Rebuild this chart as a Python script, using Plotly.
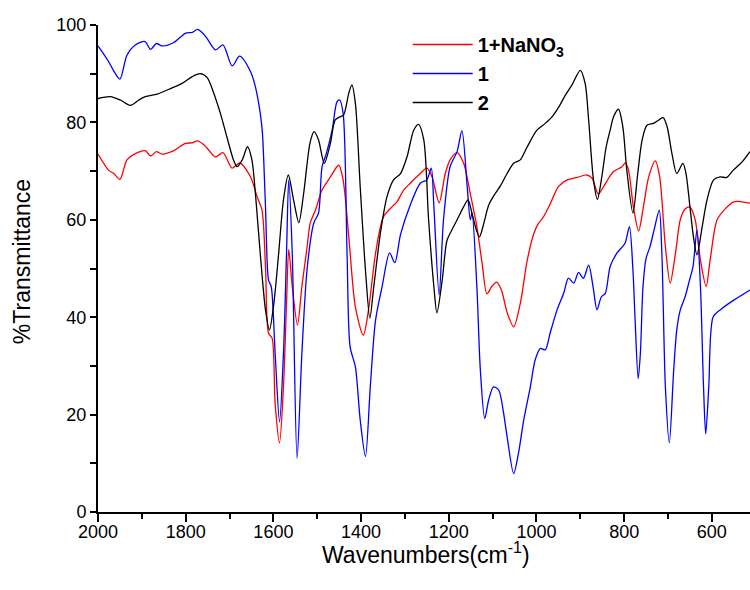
import plotly.graph_objects as go

# ---- data (wavenumber cm-1, %T) ----
wn_1 = [2000, 1976, 1965, 1950, 1934, 1915, 1893, 1880, 1867, 1854, 1827, 1801, 1785, 1773, 1760, 1751,
        1732, 1715, 1694, 1677, 1652, 1641, 1630, 1625, 1618, 1611, 1605, 1596, 1586, 1577, 1570, 1565,
        1557, 1546, 1535, 1523, 1508, 1497, 1489, 1479, 1466, 1455, 1449, 1441, 1432, 1425, 1413, 1402,
        1390, 1379, 1367, 1352, 1335, 1323, 1310, 1288, 1265, 1250, 1240, 1234, 1222, 1212, 1197, 1181,
        1170, 1158, 1151, 1147, 1136, 1128, 1118, 1109, 1098, 1086, 1075, 1067, 1052, 1041, 1029, 1014,
        1003, 991, 980, 969, 953, 938, 927, 915, 904, 893, 881, 871, 862, 852, 843, 832, 817, 798, 788,
        780, 775, 768, 763, 757, 750, 741, 730, 720, 714, 706, 697, 687, 680, 672, 661, 651, 643, 634,
        626, 619, 614, 607, 597, 581, 550, 513]
t_1 = [95.7, 92.5, 90.7, 88.9, 93.8, 95.9, 96.6, 95.0, 96.2, 95.7, 96.4, 98.3, 98.5, 99.1, 98.2, 97.2,
       94.9, 95.9, 91.6, 93.6, 90.4, 87.3, 81.9, 77.8, 62.7, 47.6, 46.3, 32.6, 18.5, 32.6, 53.2, 68.2,
       53.2, 11.0, 32.6, 50.0, 59.3, 61.4, 70.9, 73.7, 78.4, 84.2, 84.6, 81.9, 53.2, 33.9, 29.8, 18.9,
       11.4, 25.7, 39.4, 46.3, 53.2, 51.2, 57.0, 63.0, 67.5, 68.2, 70.6, 62.7, 44.6, 60.0, 70.9, 74.0,
       78.3, 66.8, 60.0, 61.4, 46.3, 29.2, 19.2, 23.0, 25.7, 25.0, 20.3, 15.5, 7.9, 12.1, 18.9, 25.7,
       31.2, 33.6, 33.3, 36.7, 41.5, 44.9, 48.0, 47.0, 49.2, 48.0, 50.7, 46.3, 41.5, 44.2, 44.9, 50.4,
       53.1, 55.2, 58.6, 49.7, 39.4, 27.4, 32.6, 46.3, 52.1, 54.5, 58.6, 62.0, 53.1, 25.7, 14.2, 29.2,
       37.4, 41.5, 44.2, 47.6, 50.4, 57.9, 46.3, 25.7, 16.0, 25.7, 40.1, 41.5, 43.5, 45.6]

wn_nano3 = [2000, 1976, 1964, 1950, 1934, 1915, 1892, 1880, 1867, 1854, 1827, 1801, 1785, 1773, 1760, 1751,
            1732, 1715, 1694, 1677, 1652, 1637, 1626, 1618, 1611, 1603, 1596, 1586, 1577, 1570, 1565, 1557,
            1545, 1535, 1523, 1516, 1504, 1489, 1470, 1451, 1441, 1428, 1413, 1395, 1383, 1367, 1349, 1329,
            1318, 1303, 1288, 1265, 1250, 1238, 1222, 1208, 1197, 1181, 1166, 1151, 1136, 1124, 1113, 1102,
            1091, 1080, 1067, 1052, 1037, 1021, 1006, 995, 984, 968, 950, 930, 907, 885, 873, 859, 847, 832,
            824, 805, 797, 790, 779, 767, 756, 744, 729, 719, 706, 695, 683, 672, 661, 650, 638, 626, 613,
            604, 588, 569, 550, 531, 513]
t_nano3 = [73.5, 70.2, 69.5, 68.3, 72.3, 73.6, 74.2, 73.1, 74.0, 73.5, 74.2, 75.7, 75.8, 76.2, 75.5, 74.7,
           72.9, 73.8, 70.6, 71.7, 68.8, 64.7, 62.0, 50.4, 36.7, 35.7, 22.3, 14.2, 25.7, 42.9, 53.9, 46.3,
           38.4, 46.3, 54.5, 59.3, 62.0, 66.1, 68.8, 71.2, 68.2, 56.5, 42.1, 36.3, 41.5, 53.1, 60.6, 62.7,
           63.7, 66.1, 67.5, 69.5, 70.6, 68.8, 63.5, 69.5, 72.3, 73.8, 71.6, 65.4, 58.6, 51.1, 44.8, 46.3,
           47.2, 45.6, 41.0, 38.0, 42.8, 51.7, 57.2, 59.3, 60.6, 63.4, 66.8, 68.2, 68.7, 69.2, 68.5, 65.3,
           66.8, 69.0, 69.9, 70.9, 71.7, 70.2, 62.7, 57.7, 62.7, 68.8, 72.1, 68.8, 54.5, 47.0, 53.1, 60.0,
           62.2, 62.6, 60.0, 51.7, 46.3, 51.7, 60.0, 62.3, 63.7, 63.7, 63.4]

wn_2 = [2000, 1972, 1949, 1926, 1907, 1892, 1865, 1831, 1808, 1785, 1767, 1751, 1736, 1721, 1706, 1691,
        1683, 1671, 1659, 1649, 1641, 1630, 1618, 1609, 1599, 1588, 1577, 1566, 1554, 1542, 1531, 1516,
        1507, 1497, 1484, 1470, 1459, 1447, 1440, 1428, 1421, 1413, 1402, 1390, 1380, 1371, 1356, 1341,
        1326, 1310, 1295, 1280, 1269, 1257, 1246, 1234, 1227, 1215, 1204, 1193, 1181, 1166, 1156, 1147,
        1137, 1130, 1120, 1109, 1094, 1082, 1067, 1052, 1037, 1021, 999, 980, 964, 949, 934, 919, 900,
        889, 881, 870, 861, 851, 841, 832, 824, 813, 803, 794, 780, 769, 759, 748, 733, 721, 711, 702,
        691, 680, 666, 659, 650, 642, 634, 622, 611, 596, 581, 566, 551, 531, 513]
t_2 = [84.9, 85.3, 84.6, 83.5, 84.6, 85.3, 85.8, 87.1, 88.0, 89.4, 90.0, 89.2, 86.0, 81.9, 77.0, 72.3,
       70.9, 72.3, 75.0, 72.3, 65.4, 53.1, 41.5, 37.4, 42.8, 53.1, 64.1, 69.2, 64.1, 59.4, 65.4, 76.0,
       78.1, 76.4, 71.6, 75.7, 80.5, 81.2, 81.5, 86.0, 87.7, 83.9, 66.8, 49.7, 39.8, 46.3, 57.2, 64.7,
       68.2, 69.5, 73.0, 78.4, 79.6, 76.4, 60.0, 46.3, 40.9, 47.6, 55.8, 57.9, 60.0, 62.7, 64.1, 61.3,
       57.9, 56.5, 59.3, 63.0, 65.4, 67.0, 69.5, 71.6, 72.3, 75.0, 78.4, 79.8, 81.2, 83.2, 85.6, 87.7,
       90.7, 88.0, 80.5, 68.2, 64.2, 68.8, 75.0, 78.4, 81.2, 82.7, 79.1, 70.2, 61.4, 69.5, 76.4, 79.4,
       79.8, 80.5, 81.0, 79.1, 73.6, 69.5, 71.6, 69.5, 62.7, 56.5, 52.8, 58.6, 64.1, 68.2, 68.8, 68.7,
       70.2, 71.9, 74.0]

series_names = ["<b>1+NaNO<sub>3</sub></b>", "<b>1</b>", "<b>2</b>"]
series_colors = ["#ff0000", "#0000ff", "#000000"]
x_tick_vals = [2000, 1800, 1600, 1400, 1200, 1000, 800, 600]
y_tick_vals = [0, 20, 40, 60, 80, 100]
x_title = "Wavenumbers(cm<sup>-1</sup>)"
y_title = "%Transmittance"

FONT = "Liberation Sans, Arial, sans-serif"

fig = go.Figure()
for name, color, xs, ys in zip(series_names, series_colors,
                               [wn_nano3, wn_1, wn_2], [t_nano3, t_1, t_2]):
    fig.add_trace(go.Scatter(x=xs, y=ys, mode="lines", name=name,
                             line=dict(color=color, width=1.3, shape="spline", smoothing=0.8)))

fig.update_layout(
    width=750, height=590,
    margin=dict(l=98, r=0, t=25, b=78),
    paper_bgcolor="white", plot_bgcolor="white",
    font=dict(family=FONT, color="black"),
    showlegend=True,
    legend=dict(x=0.475, y=1.0, xanchor="left", yanchor="top",
                font=dict(size=20, family=FONT, color="black"),
                bgcolor="rgba(0,0,0,0)", tracegroupgap=0, itemwidth=60),
    xaxis=dict(range=[2000, 513], autorange=False, tickvals=x_tick_vals, automargin=False,
               ticks="outside", ticklen=8, tickwidth=2, tickcolor="black", ticklabelstandoff=-6,
               minor=dict(dtick=100, tick0=0, ticks="outside", ticklen=5, tickwidth=2, tickcolor="black"),
               showline=True, linewidth=2, linecolor="black", showgrid=False, zeroline=False,
               tickfont=dict(size=18, family=FONT)),
    yaxis=dict(range=[0, 100], autorange=False, tickvals=y_tick_vals, automargin=False,
               ticks="outside", ticklen=6, tickwidth=2, tickcolor="black",
               minor=dict(dtick=10, tick0=0, ticks="outside", ticklen=6, tickwidth=2, tickcolor="black"),
               showline=True, linewidth=2, linecolor="black", showgrid=False, zeroline=False,
               tickfont=dict(size=18, family=FONT)),
    annotations=[
        dict(text=x_title, xref="paper", yref="paper", x=0.503, y=0, yshift=-41,
             xanchor="center", yanchor="middle", showarrow=False,
             font=dict(size=23, family=FONT, color="black")),
        dict(text=y_title, xref="paper", yref="paper", x=0, y=0.513, xshift=-76,
             xanchor="center", yanchor="middle", textangle=-90, showarrow=False,
             font=dict(size=23, family=FONT, color="black")),
    ],
)

fig.write_html("out.html", config={"displayModeBar": False},
               post_script="document.body.style.margin='0';")
